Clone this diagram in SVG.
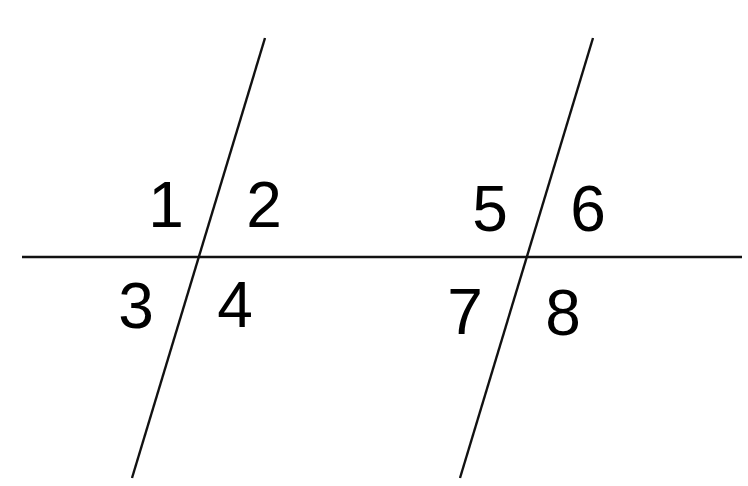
<svg xmlns="http://www.w3.org/2000/svg" width="748" height="486" viewBox="0 0 748 486">
<style>
.ln{stroke:#111;stroke-width:2.4;fill:none}
.lb{font-family:"Liberation Sans",Arial,sans-serif;font-size:64px;fill:#000;text-anchor:middle}
</style>
<rect width="748" height="486" fill="#fff"/>
<g id="connectors">
<line class="ln" x1="22" y1="257" x2="742" y2="257"/>
<line class="ln" x1="265" y1="38" x2="132" y2="478"/>
<line class="ln" x1="593" y1="38" x2="460" y2="478"/>
</g>
<g id="labels">
<text class="lb" x="166" y="227">1</text>
<text class="lb" x="264" y="227">2</text>
<text class="lb" x="136" y="328">3</text>
<text class="lb" x="235" y="327">4</text>
<text class="lb" x="490" y="231">5</text>
<text class="lb" x="588" y="231">6</text>
<text class="lb" x="465" y="334">7</text>
<text class="lb" x="563" y="335">8</text>
</g>
</svg>
